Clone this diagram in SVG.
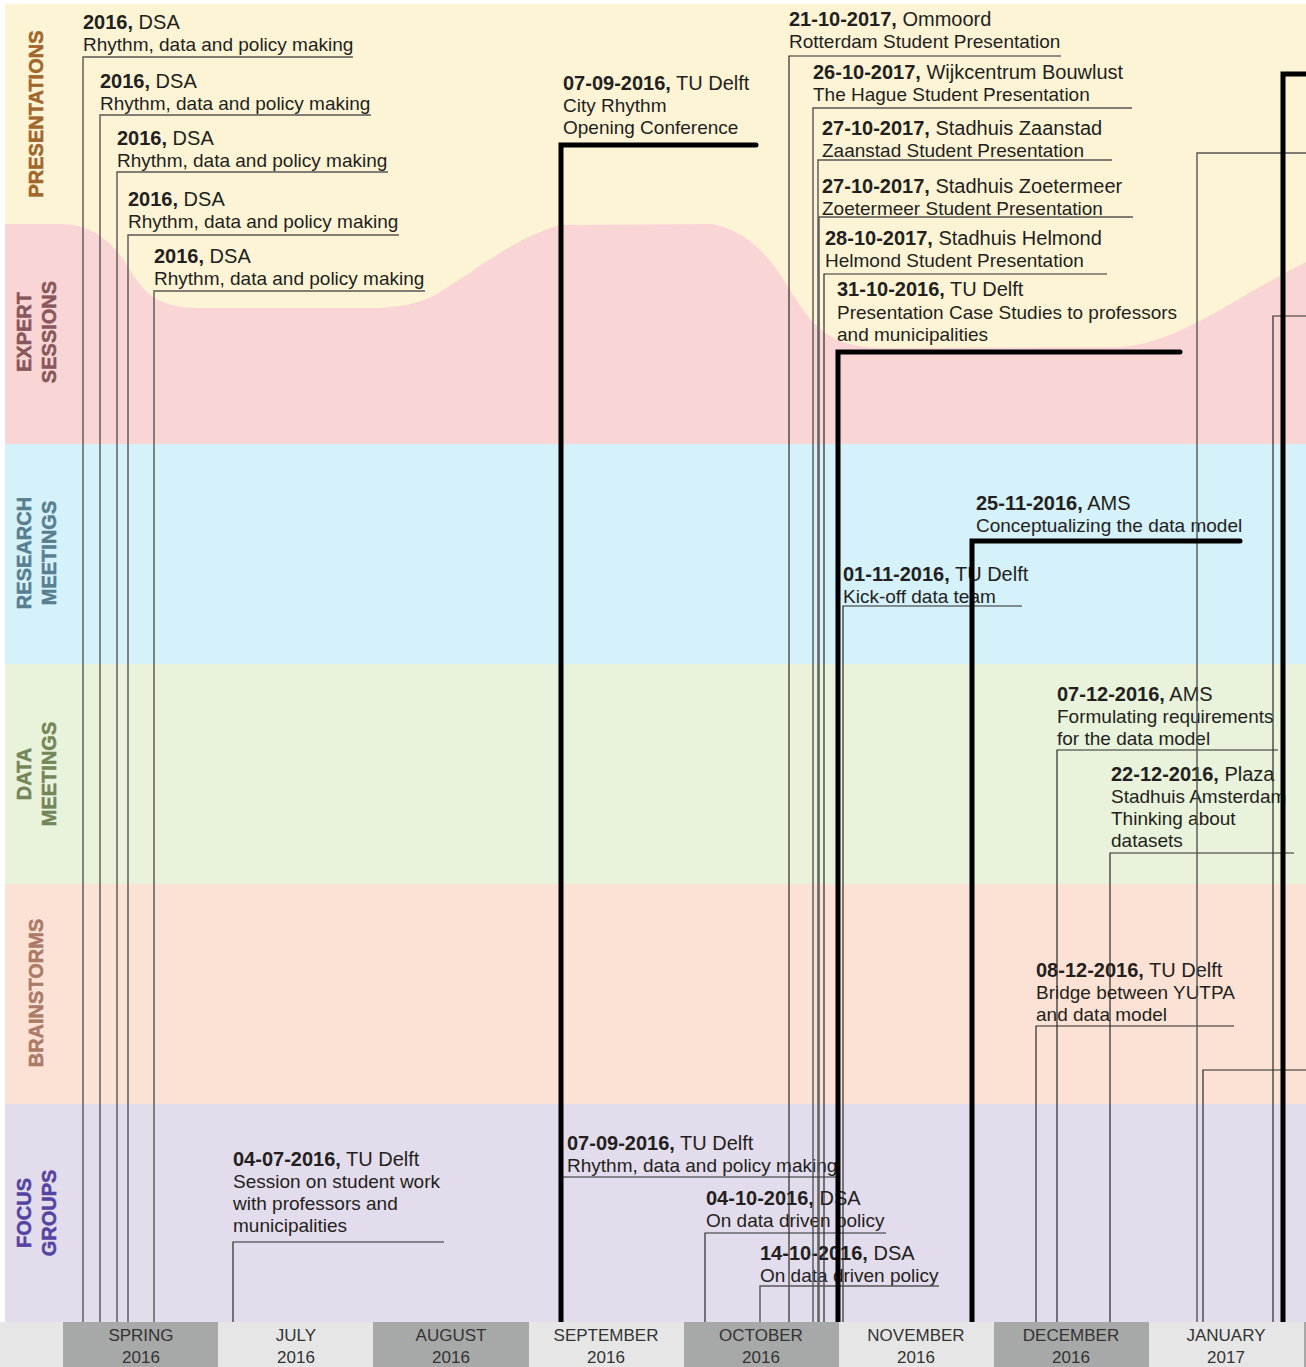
<svg xmlns="http://www.w3.org/2000/svg" width="1306" height="1367" viewBox="0 0 1306 1367">
<style>
text{font-family:"Liberation Sans",Arial,sans-serif;fill:#231f20}
.t{font-size:20px}
.t tspan.b{font-weight:bold}
.s{font-size:19px}
.lane{font-size:20px;font-weight:bold;text-anchor:middle;stroke-width:0.5}
.ax{font-size:17px;text-anchor:middle;fill:#333}
.thin{fill:none;stroke:#2a2a2a;stroke-width:1.2}
.gray{fill:none;stroke:#555;stroke-width:1.4}
.thick{fill:none;stroke:#000;stroke-width:5;stroke-linecap:round;stroke-linejoin:miter}
</style>
<rect x="0" y="0" width="1306" height="1367" fill="#fff"/>
<g id="lanes">
<rect x="5" y="4" width="1301" height="440" fill="#fdf4d6"/>
<path d="M5,224 L60,224 C95,224 115,245 130,270 C145,295 160,308 200,308 L380,308 C410,306 425,301 440,292 C480,268 510,240 560,225 L712,224 C745,230 770,255 790,290 C815,330 830,346 880,348 L1120,347 C1180,343 1230,300 1306,262 L1306,444 L5,444 Z" fill="#fad5d5"/>
<rect x="5" y="444" width="1301" height="220" fill="#d5f1f9"/>
<rect x="5" y="664" width="1301" height="220" fill="#e9f2db"/>
<rect x="5" y="884" width="1301" height="220" fill="#fce2d4"/>
<rect x="5" y="1104" width="1301" height="218" fill="#e3dcec"/>
</g>
<g id="lane-labels">
<text class="lane" transform="translate(43,114) rotate(-90)" style="fill:#a0662a;stroke:#a0662a">PRESENTATIONS</text>
<text class="lane" transform="translate(31,332) rotate(-90)" style="fill:#87575b;stroke:#87575b">EXPERT</text>
<text class="lane" transform="translate(56,332) rotate(-90)" style="fill:#87575b;stroke:#87575b">SESSIONS</text>
<text class="lane" transform="translate(31,553) rotate(-90)" style="fill:#567f90;stroke:#567f90">RESEARCH</text>
<text class="lane" transform="translate(56,553) rotate(-90)" style="fill:#567f90;stroke:#567f90">MEETINGS</text>
<text class="lane" transform="translate(31,774) rotate(-90)" style="fill:#738658;stroke:#738658">DATA</text>
<text class="lane" transform="translate(56,774) rotate(-90)" style="fill:#738658;stroke:#738658">MEETINGS</text>
<text class="lane" transform="translate(43,993) rotate(-90)" style="fill:#ab7a68;stroke:#ab7a68">BRAINSTORMS</text>
<text class="lane" transform="translate(31,1213) rotate(-90)" style="fill:#5444a2;stroke:#5444a2">FOCUS</text>
<text class="lane" transform="translate(56,1213) rotate(-90)" style="fill:#5444a2;stroke:#5444a2">GROUPS</text>
</g>
<g id="n-dsa1"><text class="t" x="83" y="29"><tspan class="b">2016,</tspan> DSA</text><text class="s" x="83" y="51">Rhythm, data and policy making</text></g>
<g id="n-dsa2"><text class="t" x="100" y="88"><tspan class="b">2016,</tspan> DSA</text><text class="s" x="100" y="110">Rhythm, data and policy making</text></g>
<g id="n-dsa3"><text class="t" x="117" y="145"><tspan class="b">2016,</tspan> DSA</text><text class="s" x="117" y="167">Rhythm, data and policy making</text></g>
<g id="n-dsa4"><text class="t" x="128" y="206"><tspan class="b">2016,</tspan> DSA</text><text class="s" x="128" y="228">Rhythm, data and policy making</text></g>
<g id="n-dsa5"><text class="t" x="154" y="263"><tspan class="b">2016,</tspan> DSA</text><text class="s" x="154" y="285">Rhythm, data and policy making</text></g>
<g id="n-opening"><text class="t" x="563" y="90"><tspan class="b">07-09-2016,</tspan> TU Delft</text><text class="s" x="563" y="112">City Rhythm</text><text class="s" x="563" y="134">Opening Conference</text></g>
<g id="n-ommoord"><text class="t" x="789" y="26"><tspan class="b">21-10-2017,</tspan> Ommoord</text><text class="s" x="789" y="48">Rotterdam Student Presentation</text></g>
<g id="n-bouwlust"><text class="t" x="813" y="79"><tspan class="b">26-10-2017,</tspan> Wijkcentrum Bouwlust</text><text class="s" x="813" y="101">The Hague Student Presentation</text></g>
<g id="n-zaanstad"><text class="t" x="822" y="135"><tspan class="b">27-10-2017,</tspan> Stadhuis Zaanstad</text><text class="s" x="822" y="157">Zaanstad Student Presentation</text></g>
<g id="n-zoetermeer"><text class="t" x="822" y="193"><tspan class="b">27-10-2017,</tspan> Stadhuis Zoetermeer</text><text class="s" x="822" y="215">Zoetermeer Student Presentation</text></g>
<g id="n-helmond"><text class="t" x="825" y="245"><tspan class="b">28-10-2017,</tspan> Stadhuis Helmond</text><text class="s" x="825" y="267">Helmond Student Presentation</text></g>
<g id="n-casestudies"><text class="t" x="837" y="296"><tspan class="b">31-10-2016,</tspan> TU Delft</text><text class="s" x="837" y="319">Presentation Case Studies to professors</text><text class="s" x="837" y="341">and municipalities</text></g>
<g id="n-conceptual"><text class="t" x="976" y="510"><tspan class="b">25-11-2016,</tspan> AMS</text><text class="s" x="976" y="532">Conceptualizing the data model</text></g>
<g id="n-kickoff"><text class="t" x="843" y="581"><tspan class="b">01-11-2016,</tspan> TU Delft</text><text class="s" x="843" y="603">Kick-off data team</text></g>
<g id="n-requirements"><text class="t" x="1057" y="701"><tspan class="b">07-12-2016,</tspan> AMS</text><text class="s" x="1057" y="723">Formulating requirements</text><text class="s" x="1057" y="745">for the data model</text></g>
<g id="n-datasets"><text class="t" x="1111" y="781"><tspan class="b">22-12-2016,</tspan> Plaza</text><text class="s" x="1111" y="803">Stadhuis Amsterdam</text><text class="s" x="1111" y="825">Thinking about</text><text class="s" x="1111" y="847">datasets</text></g>
<g id="n-bridge"><text class="t" x="1036" y="977"><tspan class="b">08-12-2016,</tspan> TU Delft</text><text class="s" x="1036" y="999">Bridge between YUTPA</text><text class="s" x="1036" y="1021">and data model</text></g>
<g id="n-session"><text class="t" x="233" y="1166"><tspan class="b">04-07-2016,</tspan> TU Delft</text><text class="s" x="233" y="1188">Session on student work</text><text class="s" x="233" y="1210">with professors and</text><text class="s" x="233" y="1232">municipalities</text></g>
<g id="n-focus-rhythm"><text class="t" x="567" y="1150"><tspan class="b">07-09-2016,</tspan> TU Delft</text><text class="s" x="567" y="1172">Rhythm, data and policy making</text></g>
<g id="n-policy1"><text class="t" x="706" y="1205"><tspan class="b">04-10-2016,</tspan> DSA</text><text class="s" x="706" y="1227">On data driven policy</text></g>
<g id="n-policy2"><text class="t" x="760" y="1260"><tspan class="b">14-10-2016,</tspan> DSA</text><text class="s" x="760" y="1282">On data driven policy</text></g>
<g id="connectors">
<polyline class="gray" points="353,57 83,57 83,1322"/>
<polyline class="gray" points="371,115 100,115 100,1322"/>
<polyline class="gray" points="388,172 117,172 117,1322"/>
<polyline class="gray" points="399,235 128,235 128,1322"/>
<polyline class="gray" points="425,291 154,291 154,1322"/>
<polyline class="thin" points="1061,56 789,56 789,1322"/>
<polyline class="gray" points="1132,108 813,108 813,1322"/>
<polyline class="gray" points="1112,160 818,160 818,1322"/>
<polyline class="gray" points="1133,217 819,217 819,1322"/>
<polyline class="thin" points="1107,274 824,274 824,1322"/>
<polyline class="thin" points="1022,606 843,606 843,1322"/>
<polyline class="thin" points="1278,750 1057,750 1057,1322"/>
<polyline class="thin" points="1294,853 1110,853 1110,1322"/>
<polyline class="thin" points="1234,1026 1036,1026 1036,1322"/>
<polyline class="thin" points="444,1242 233,1242 233,1322"/>
<polyline class="thin" points="840,1177 561,1177"/>
<polyline class="thin" points="886,1233 705,1233 705,1322"/>
<polyline class="gray" points="939,1286 760,1286 760,1322"/>
<polyline class="gray" points="1306,153 1197,153 1197,1322"/>
<polyline class="thin" points="1306,316 1273,316 1273,1322"/>
<polyline class="thin" points="1306,1070 1203,1070 1203,1322"/>
<polyline class="thick" points="756,145 561,145 561,1330"/>
<polyline class="thick" points="1180,352 838,352 838,1330"/>
<polyline class="thick" points="1240,541 972,541 972,1330"/>
<polyline class="thick" points="1310,74 1283,74 1283,1330"/>
</g>
<g id="axis">
<rect x="0" y="1322" width="1306" height="45" fill="#e6e6e6"/>
<rect x="63" y="1322" width="155" height="45" fill="#a7a9a9"/>
<rect x="373" y="1322" width="156" height="45" fill="#a7a9a9"/>
<rect x="684" y="1322" width="155" height="45" fill="#a7a9a9"/>
<rect x="994" y="1322" width="155" height="45" fill="#a7a9a9"/>
<rect x="1304" y="1322" width="2" height="45" fill="#a7a9a9"/>
<text class="ax" x="141" y="1341">SPRING</text><text class="ax" x="141" y="1363">2016</text>
<text class="ax" x="296" y="1341">JULY</text><text class="ax" x="296" y="1363">2016</text>
<text class="ax" x="451" y="1341">AUGUST</text><text class="ax" x="451" y="1363">2016</text>
<text class="ax" x="606" y="1341">SEPTEMBER</text><text class="ax" x="606" y="1363">2016</text>
<text class="ax" x="761" y="1341">OCTOBER</text><text class="ax" x="761" y="1363">2016</text>
<text class="ax" x="916" y="1341">NOVEMBER</text><text class="ax" x="916" y="1363">2016</text>
<text class="ax" x="1071" y="1341">DECEMBER</text><text class="ax" x="1071" y="1363">2016</text>
<text class="ax" x="1226" y="1341">JANUARY</text><text class="ax" x="1226" y="1363">2017</text>
</g>
</svg>
